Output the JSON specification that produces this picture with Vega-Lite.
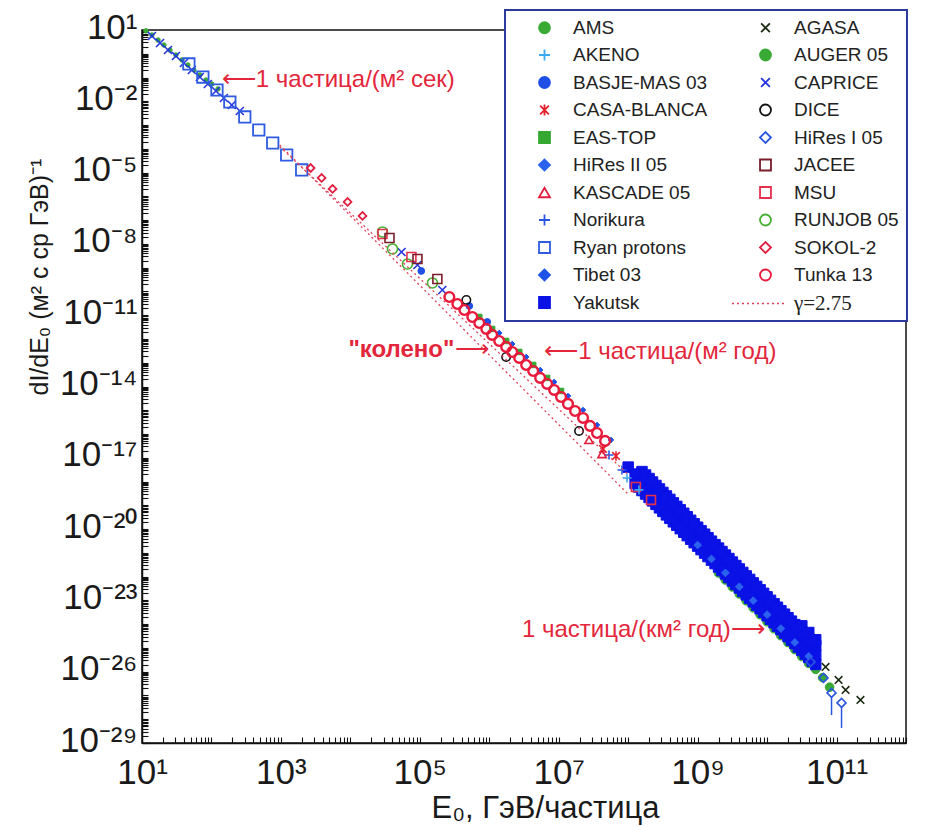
{
  "$schema": "https://vega.github.io/schema/vega-lite/v6.json",
  "autosize": {"type": "none"},
  "padding": {"left": 142, "top": 30, "right": 35, "bottom": 84},
  "width": 764,
  "height": 713,
  "background": "white",
  "config": {
    "font": "Liberation Sans",
    "view": {"stroke": "#111", "strokeWidth": 1.5},
    "axis": {"grid": false, "domainColor": "#111", "domainWidth": 1.5, "tickColor": "#111", "tickWidth": 1.1, "labelColor": "#1a1a1a", "titleColor": "#1a1a1a", "titleFontWeight": "normal", "labelFont": "Liberation Sans", "titleFont": "Liberation Sans"},
    "legend": {
      "symbolSize": 120, "symbolStrokeWidth": 1.8,
      "labelFont": "Liberation Sans", "labelFontSize": 19, "labelColor": "#222",
      "rowPadding": 7.5, "columnPadding": 26, "padding": 8,
      "symbolOffset": 22, "labelOffset": 19,
      "strokeColor": "#2b3a9c", "strokeWidth": 2, "fillColor": "#ffffff", "labelLimit": 400
    }
  },
  "datasets": {
    "gamma": [
      {"line": "A", "E": 962, "F": 1.245e-4},
      {"line": "A", "E": 1.026e8, "F": 1.85e-18},
      {"line": "B", "E": 962, "F": 1.45e-4},
      {"line": "B", "E": 1.026e8, "F": 2.74e-19}
    ],
    "errs": [
      {"series": "HiRes I 05", "E": 8.47e10, "F": 9.0e-28, "F2": 1.5e-28},
      {"series": "HiRes I 05", "E": 1.18e11, "F": 3.5e-28, "F2": 4.3e-29}
    ],
    "points": [
      {"series": "AUGER 05", "E": 2.00e9, "F": 1.42e-22},
      {"series": "AUGER 05", "E": 2.51e9, "F": 7.23e-23},
      {"series": "AUGER 05", "E": 3.16e9, "F": 3.68e-23},
      {"series": "AUGER 05", "E": 3.98e9, "F": 1.87e-23},
      {"series": "AUGER 05", "E": 5.01e9, "F": 9.61e-24},
      {"series": "AUGER 05", "E": 6.31e9, "F": 4.88e-24},
      {"series": "AUGER 05", "E": 7.94e9, "F": 2.49e-24},
      {"series": "AUGER 05", "E": 1.00e10, "F": 1.26e-24},
      {"series": "AUGER 05", "E": 1.26e10, "F": 6.44e-25},
      {"series": "AUGER 05", "E": 1.58e10, "F": 3.29e-25},
      {"series": "AUGER 05", "E": 2.00e10, "F": 1.68e-25},
      {"series": "AUGER 05", "E": 2.51e10, "F": 8.50e-26},
      {"series": "AUGER 05", "E": 3.16e10, "F": 4.34e-26},
      {"series": "AUGER 05", "E": 3.98e10, "F": 2.22e-26},
      {"series": "AUGER 05", "E": 5.01e10, "F": 1.26e-26},
      {"series": "AUGER 05", "E": 6.31e10, "F": 5.62e-27},
      {"series": "AUGER 05", "E": 7.94e10, "F": 2.24e-27},

      {"series": "Yakutsk", "E": 1.00e8, "F": 4.06e-18},
      {"series": "Yakutsk", "E": 1.26e8, "F": 2.07e-18},
      {"series": "Yakutsk", "E": 1.58e8, "F": 1.05e-18},
      {"series": "Yakutsk", "E": 2.00e8, "F": 5.37e-19},
      {"series": "Yakutsk", "E": 2.51e8, "F": 2.74e-19},
      {"series": "Yakutsk", "E": 3.16e8, "F": 1.39e-19},
      {"series": "Yakutsk", "E": 3.98e8, "F": 7.10e-20},
      {"series": "Yakutsk", "E": 5.01e8, "F": 3.62e-20},
      {"series": "Yakutsk", "E": 6.31e8, "F": 1.85e-20},
      {"series": "Yakutsk", "E": 7.94e8, "F": 9.40e-21},
      {"series": "Yakutsk", "E": 1.00e9, "F": 4.79e-21},
      {"series": "Yakutsk", "E": 1.26e9, "F": 2.44e-21},
      {"series": "Yakutsk", "E": 1.58e9, "F": 1.24e-21},
      {"series": "Yakutsk", "E": 2.00e9, "F": 6.34e-22},
      {"series": "Yakutsk", "E": 2.51e9, "F": 3.23e-22},
      {"series": "Yakutsk", "E": 3.16e9, "F": 1.64e-22},
      {"series": "Yakutsk", "E": 3.98e9, "F": 8.38e-23},
      {"series": "Yakutsk", "E": 5.01e9, "F": 4.28e-23},
      {"series": "Yakutsk", "E": 6.31e9, "F": 2.18e-23},
      {"series": "Yakutsk", "E": 7.94e9, "F": 1.11e-23},
      {"series": "Yakutsk", "E": 1.00e10, "F": 5.65e-24},
      {"series": "Yakutsk", "E": 1.26e10, "F": 2.88e-24},
      {"series": "Yakutsk", "E": 1.58e10, "F": 1.47e-24},
      {"series": "Yakutsk", "E": 2.00e10, "F": 7.48e-25},
      {"series": "Yakutsk", "E": 2.51e10, "F": 3.81e-25},
      {"series": "Yakutsk", "E": 3.16e10, "F": 1.94e-25},
      {"series": "Yakutsk", "E": 3.98e10, "F": 9.89e-26},
      {"series": "Yakutsk", "E": 5.01e10, "F": 5.05e-26},
      {"series": "Yakutsk", "E": 1.58e8, "F": 2.63e-18},
      {"series": "Yakutsk", "E": 2.00e8, "F": 1.34e-18},
      {"series": "Yakutsk", "E": 2.51e8, "F": 6.85e-19},
      {"series": "Yakutsk", "E": 3.16e8, "F": 3.48e-19},
      {"series": "Yakutsk", "E": 3.98e8, "F": 1.78e-19},
      {"series": "Yakutsk", "E": 5.01e8, "F": 9.05e-20},
      {"series": "Yakutsk", "E": 6.31e8, "F": 4.63e-20},
      {"series": "Yakutsk", "E": 7.94e8, "F": 2.35e-20},
      {"series": "Yakutsk", "E": 1.00e9, "F": 1.20e-20},
      {"series": "Yakutsk", "E": 1.26e9, "F": 6.10e-21},
      {"series": "Yakutsk", "E": 1.58e9, "F": 3.10e-21},
      {"series": "Yakutsk", "E": 2.00e9, "F": 1.59e-21},
      {"series": "Yakutsk", "E": 2.51e9, "F": 8.08e-22},
      {"series": "Yakutsk", "E": 3.16e9, "F": 4.10e-22},
      {"series": "Yakutsk", "E": 3.98e9, "F": 2.10e-22},
      {"series": "Yakutsk", "E": 5.01e9, "F": 1.07e-22},
      {"series": "Yakutsk", "E": 6.31e9, "F": 5.45e-23},
      {"series": "Yakutsk", "E": 7.94e9, "F": 2.78e-23},
      {"series": "Yakutsk", "E": 1.00e10, "F": 1.41e-23},
      {"series": "Yakutsk", "E": 1.26e10, "F": 7.20e-24},
      {"series": "Yakutsk", "E": 1.58e10, "F": 3.68e-24},
      {"series": "Yakutsk", "E": 2.00e10, "F": 1.87e-24},
      {"series": "Yakutsk", "E": 2.51e10, "F": 9.53e-25},
      {"series": "Yakutsk", "E": 3.16e10, "F": 4.85e-25},
      {"series": "Yakutsk", "E": 3.98e10, "F": 2.47e-25},
      {"series": "Yakutsk", "E": 5.01e10, "F": 1.26e-25},
      {"series": "Yakutsk", "E": 1.78e8, "F": 1.88e-18},
      {"series": "Yakutsk", "E": 2.24e8, "F": 9.57e-19},
      {"series": "Yakutsk", "E": 2.82e8, "F": 4.89e-19},
      {"series": "Yakutsk", "E": 3.55e8, "F": 2.48e-19},
      {"series": "Yakutsk", "E": 4.47e8, "F": 1.27e-19},
      {"series": "Yakutsk", "E": 5.62e8, "F": 6.46e-20},
      {"series": "Yakutsk", "E": 7.08e8, "F": 3.31e-20},
      {"series": "Yakutsk", "E": 8.91e8, "F": 1.68e-20},
      {"series": "Yakutsk", "E": 1.12e9, "F": 8.57e-21},
      {"series": "Yakutsk", "E": 1.41e9, "F": 4.36e-21},
      {"series": "Yakutsk", "E": 1.78e9, "F": 2.21e-21},
      {"series": "Yakutsk", "E": 2.24e9, "F": 1.14e-21},
      {"series": "Yakutsk", "E": 2.82e9, "F": 5.77e-22},
      {"series": "Yakutsk", "E": 3.55e9, "F": 2.93e-22},
      {"series": "Yakutsk", "E": 4.47e9, "F": 1.50e-22},
      {"series": "Yakutsk", "E": 5.62e9, "F": 7.64e-23},
      {"series": "Yakutsk", "E": 7.08e9, "F": 3.89e-23},
      {"series": "Yakutsk", "E": 8.91e9, "F": 1.98e-23},
      {"series": "Yakutsk", "E": 1.12e10, "F": 1.01e-23},
      {"series": "Yakutsk", "E": 1.41e10, "F": 5.14e-24},
      {"series": "Yakutsk", "E": 1.78e10, "F": 2.63e-24},
      {"series": "Yakutsk", "E": 2.24e10, "F": 1.34e-24},
      {"series": "Yakutsk", "E": 2.82e10, "F": 6.80e-25},
      {"series": "Yakutsk", "E": 3.55e10, "F": 3.46e-25},
      {"series": "Yakutsk", "E": 4.47e10, "F": 1.76e-25},
      {"series": "Yakutsk", "E": 1.26e8, "F": 8.28e-19},
      {"series": "Yakutsk", "E": 1.58e8, "F": 4.20e-19},
      {"series": "Yakutsk", "E": 2.00e8, "F": 2.15e-19},
      {"series": "Yakutsk", "E": 2.51e8, "F": 1.10e-19},
      {"series": "Yakutsk", "E": 3.16e8, "F": 5.56e-20},
      {"series": "Yakutsk", "E": 3.98e8, "F": 2.84e-20},
      {"series": "Yakutsk", "E": 5.01e8, "F": 1.45e-20},
      {"series": "Yakutsk", "E": 6.31e8, "F": 7.40e-21},
      {"series": "Yakutsk", "E": 7.94e8, "F": 3.76e-21},
      {"series": "Yakutsk", "E": 1.00e9, "F": 1.92e-21},
      {"series": "Yakutsk", "E": 1.26e9, "F": 9.76e-22},
      {"series": "Yakutsk", "E": 1.58e9, "F": 4.96e-22},
      {"series": "Yakutsk", "E": 2.00e9, "F": 2.54e-22},
      {"series": "Yakutsk", "E": 2.51e9, "F": 1.29e-22},
      {"series": "Yakutsk", "E": 3.16e9, "F": 6.56e-23},
      {"series": "Yakutsk", "E": 3.98e9, "F": 3.35e-23},
      {"series": "Yakutsk", "E": 5.01e9, "F": 1.71e-23},
      {"series": "Yakutsk", "E": 6.31e9, "F": 8.72e-24},
      {"series": "Yakutsk", "E": 7.94e9, "F": 4.44e-24},
      {"series": "Yakutsk", "E": 1.00e10, "F": 2.26e-24},
      {"series": "Yakutsk", "E": 1.26e10, "F": 1.15e-24},
      {"series": "Yakutsk", "E": 1.58e10, "F": 5.88e-25},
      {"series": "Yakutsk", "E": 2.00e10, "F": 2.99e-25},
      {"series": "Yakutsk", "E": 2.51e10, "F": 1.52e-25},
      {"series": "Yakutsk", "E": 3.16e10, "F": 7.76e-26},
      {"series": "Yakutsk", "E": 3.98e10, "F": 3.96e-26},
      {"series": "Yakutsk", "E": 5.01e10, "F": 2.02e-26},
      {"series": "Yakutsk", "E": 1.41e8, "F": 5.91e-19},
      {"series": "Yakutsk", "E": 1.78e8, "F": 3.00e-19},
      {"series": "Yakutsk", "E": 2.24e8, "F": 1.54e-19},
      {"series": "Yakutsk", "E": 2.82e8, "F": 7.85e-20},
      {"series": "Yakutsk", "E": 3.55e8, "F": 3.97e-20},
      {"series": "Yakutsk", "E": 4.47e8, "F": 2.03e-20},
      {"series": "Yakutsk", "E": 5.62e8, "F": 1.04e-20},
      {"series": "Yakutsk", "E": 7.08e8, "F": 5.28e-21},
      {"series": "Yakutsk", "E": 8.91e8, "F": 2.68e-21},
      {"series": "Yakutsk", "E": 1.12e9, "F": 1.37e-21},
      {"series": "Yakutsk", "E": 1.41e9, "F": 6.97e-22},
      {"series": "Yakutsk", "E": 1.78e9, "F": 3.54e-22},
      {"series": "Yakutsk", "E": 2.24e9, "F": 1.81e-22},
      {"series": "Yakutsk", "E": 2.82e9, "F": 9.21e-23},
      {"series": "Yakutsk", "E": 3.55e9, "F": 4.68e-23},
      {"series": "Yakutsk", "E": 4.47e9, "F": 2.39e-23},
      {"series": "Yakutsk", "E": 5.62e9, "F": 1.22e-23},
      {"series": "Yakutsk", "E": 7.08e9, "F": 6.23e-24},
      {"series": "Yakutsk", "E": 8.91e9, "F": 3.17e-24},
      {"series": "Yakutsk", "E": 1.12e10, "F": 1.61e-24},
      {"series": "Yakutsk", "E": 1.41e10, "F": 8.21e-25},
      {"series": "Yakutsk", "E": 1.78e10, "F": 4.20e-25},
      {"series": "Yakutsk", "E": 2.24e10, "F": 2.13e-25},
      {"series": "Yakutsk", "E": 2.82e10, "F": 1.09e-25},
      {"series": "Yakutsk", "E": 3.55e10, "F": 5.54e-26},
      {"series": "Yakutsk", "E": 4.47e10, "F": 2.83e-26},
      {"series": "Yakutsk", "E": 3.16e10, "F": 8.5e-25},
      {"series": "Yakutsk", "E": 3.98e10, "F": 4.45e-25},
      {"series": "Yakutsk", "E": 5.01e10, "F": 2.2e-25},

      {"series": "HiRes II 05", "E": 1.00e9, "F": 2.14e-21},
      {"series": "HiRes II 05", "E": 1.58e9, "F": 5.56e-22},
      {"series": "HiRes II 05", "E": 2.51e9, "F": 1.44e-22},
      {"series": "HiRes II 05", "E": 3.98e9, "F": 3.74e-23},
      {"series": "HiRes II 05", "E": 6.31e9, "F": 9.73e-24},
      {"series": "HiRes II 05", "E": 1.00e10, "F": 2.52e-24},
      {"series": "HiRes II 05", "E": 1.58e10, "F": 6.56e-25},
      {"series": "HiRes II 05", "E": 2.51e10, "F": 1.70e-25},
      {"series": "HiRes II 05", "E": 3.98e10, "F": 4.42e-26},

      {"series": "AMS", "E": 11.4, "F": 9.2},
      {"series": "AMS", "E": 13.9, "F": 6.17},
      {"series": "AMS", "E": 17.0, "F": 3.79},
      {"series": "AMS", "E": 20.7, "F": 2.34},
      {"series": "AMS", "E": 25.2, "F": 1.44},
      {"series": "AMS", "E": 30.8, "F": 0.888},
      {"series": "AMS", "E": 37.6, "F": 0.547},
      {"series": "AMS", "E": 45.8, "F": 0.337},
      {"series": "AMS", "E": 55.8, "F": 0.207},
      {"series": "AMS", "E": 68.1, "F": 0.128},
      {"series": "AMS", "E": 83.2, "F": 0.0787},
      {"series": "AMS", "E": 101, "F": 0.0535},
      {"series": "AMS", "E": 124, "F": 0.0330},

      {"series": "CAPRICE", "E": 13.9, "F": 5.59},
      {"series": "CAPRICE", "E": 18.2, "F": 2.84},
      {"series": "CAPRICE", "E": 23.7, "F": 1.44},
      {"series": "CAPRICE", "E": 30.8, "F": 0.805},
      {"series": "CAPRICE", "E": 40.1, "F": 0.409},
      {"series": "CAPRICE", "E": 52.2, "F": 0.207},
      {"series": "CAPRICE", "E": 68.1, "F": 0.105},
      {"series": "CAPRICE", "E": 88.7, "F": 0.0535},
      {"series": "CAPRICE", "E": 116, "F": 0.0272},
      {"series": "CAPRICE", "E": 151, "F": 0.0138},
      {"series": "CAPRICE", "E": 196, "F": 0.0070},
      {"series": "CAPRICE", "E": 256, "F": 0.00391},
      {"series": "CAPRICE", "E": 5.45e4, "F": 4.57e-9},
      {"series": "CAPRICE", "E": 9.25e4, "F": 1.30e-9},
      {"series": "CAPRICE", "E": 2.11e5, "F": 1.15e-10},

      {"series": "Ryan protons", "E": 47.3, "F": 0.372},
      {"series": "Ryan protons", "E": 75.2, "F": 0.105},
      {"series": "Ryan protons", "E": 120, "F": 0.0299},
      {"series": "Ryan protons", "E": 184, "F": 0.00935},
      {"series": "Ryan protons", "E": 302, "F": 0.00219},
      {"series": "Ryan protons", "E": 480, "F": 6.21e-4},
      {"series": "Ryan protons", "E": 762, "F": 1.76e-4},
      {"series": "Ryan protons", "E": 1211, "F": 5.51e-5},
      {"series": "Ryan protons", "E": 1991, "F": 1.29e-5},

      {"series": "SOKOL-2", "E": 2680, "F": 1.56e-5},
      {"series": "SOKOL-2", "E": 3855, "F": 5.94e-6},
      {"series": "SOKOL-2", "E": 5546, "F": 2.05e-6},
      {"series": "SOKOL-2", "E": 9120, "F": 5.81e-7},
      {"series": "SOKOL-2", "E": 14960, "F": 1.50e-7},

      {"series": "RUNJOB 05", "E": 2.90e4, "F": 3.18e-8},
      {"series": "RUNJOB 05", "E": 4.04e4, "F": 6.12e-9},
      {"series": "RUNJOB 05", "E": 6.64e4, "F": 1.43e-9},
      {"series": "RUNJOB 05", "E": 1.52e5, "F": 2.27e-10},

      {"series": "MSU", "E": 2.90e4, "F": 2.62e-8},
      {"series": "MSU", "E": 7.57e4, "F": 2.82e-9},
      {"series": "MSU", "E": 1.29e8, "F": 5.94e-19},
      {"series": "MSU", "E": 2.13e8, "F": 1.69e-19},

      {"series": "JACEE", "E": 3.66e4, "F": 1.77e-8},
      {"series": "JACEE", "E": 9.25e4, "F": 2.32e-9},
      {"series": "JACEE", "E": 1.79e5, "F": 3.35e-10},

      {"series": "EAS-TOP", "E": 7.18e5, "F": 8.43e-12},
      {"series": "EAS-TOP", "E": 1.10e6, "F": 2.64e-12},
      {"series": "EAS-TOP", "E": 1.75e6, "F": 8.24e-13},
      {"series": "EAS-TOP", "E": 2.70e6, "F": 2.84e-13},
      {"series": "EAS-TOP", "E": 4.29e6, "F": 8.05e-14},
      {"series": "EAS-TOP", "E": 6.81e6, "F": 2.29e-14},
      {"series": "EAS-TOP", "E": 1.08e7, "F": 6.50e-15},

      {"series": "Tibet 03", "E": 1.39e6, "F": 1.79e-12},
      {"series": "Tibet 03", "E": 2.14e6, "F": 6.17e-13},
      {"series": "Tibet 03", "E": 3.40e6, "F": 1.75e-13},
      {"series": "Tibet 03", "E": 5.41e6, "F": 4.97e-14},
      {"series": "Tibet 03", "E": 8.59e6, "F": 1.55e-14},
      {"series": "Tibet 03", "E": 1.36e7, "F": 4.00e-15},
      {"series": "Tibet 03", "E": 2.24e7, "F": 1.03e-15},
      {"series": "Tibet 03", "E": 3.56e7, "F": 2.41e-16},
      {"series": "Tibet 03", "E": 5.66e7, "F": 5.64e-17},

      {"series": "BASJE-MAS 03", "E": 1.05e5, "F": 7.26e-10},
      {"series": "BASJE-MAS 03", "E": 5.16e5, "F": 2.45e-11},
      {"series": "BASJE-MAS 03", "E": 9.35e5, "F": 5.20e-12},

      {"series": "DICE", "E": 4.68e5, "F": 4.38e-11},
      {"series": "DICE", "E": 1.75e6, "F": 1.75e-13},
      {"series": "DICE", "E": 1.96e7, "F": 1.35e-16},

      {"series": "Norikura", "E": 5.30e7, "F": 1.32e-17},
      {"series": "Norikura", "E": 8.14e7, "F": 3.08e-18},
      {"series": "AKENO", "E": 9.62e7, "F": 1.42e-18},
      {"series": "AKENO", "E": 1.43e8, "F": 4.45e-19},
      {"series": "CASA-BLANCA", "E": 4.34e7, "F": 2.36e-17},
      {"series": "CASA-BLANCA", "E": 6.68e7, "F": 1.20e-17},
      {"series": "KASCADE 05", "E": 2.73e7, "F": 5.64e-17},
      {"series": "KASCADE 05", "E": 4.21e7, "F": 1.45e-17},

      {"series": "Tunka 13", "E": 2.66e5, "F": 5.85e-11},
      {"series": "Tunka 13", "E": 3.47e5, "F": 2.97e-11},
      {"series": "Tunka 13", "E": 4.38e5, "F": 1.66e-11},
      {"series": "Tunka 13", "E": 5.70e5, "F": 8.43e-12},
      {"series": "Tunka 13", "E": 7.18e5, "F": 4.71e-12},
      {"series": "Tunka 13", "E": 9.06e5, "F": 2.64e-12},
      {"series": "Tunka 13", "E": 1.10e6, "F": 1.48e-12},
      {"series": "Tunka 13", "E": 1.39e6, "F": 8.24e-13},
      {"series": "Tunka 13", "E": 1.75e6, "F": 4.61e-13},
      {"series": "Tunka 13", "E": 2.14e6, "F": 2.84e-13},
      {"series": "Tunka 13", "E": 2.70e6, "F": 1.59e-13},
      {"series": "Tunka 13", "E": 3.40e6, "F": 8.05e-14},
      {"series": "Tunka 13", "E": 4.29e6, "F": 4.51e-14},
      {"series": "Tunka 13", "E": 5.41e6, "F": 2.29e-14},
      {"series": "Tunka 13", "E": 6.81e6, "F": 1.28e-14},
      {"series": "Tunka 13", "E": 8.59e6, "F": 7.16e-15},
      {"series": "Tunka 13", "E": 1.08e7, "F": 3.63e-15},
      {"series": "Tunka 13", "E": 1.36e7, "F": 1.85e-15},
      {"series": "Tunka 13", "E": 1.72e7, "F": 9.35e-16},
      {"series": "Tunka 13", "E": 2.24e7, "F": 4.75e-16},
      {"series": "Tunka 13", "E": 2.83e7, "F": 2.19e-16},
      {"series": "Tunka 13", "E": 3.56e7, "F": 1.11e-16},
      {"series": "Tunka 13", "E": 4.65e7, "F": 5.12e-17},

      {"series": "HiRes I 05", "E": 4.23e10, "F": 2.58e-26},
      {"series": "HiRes I 05", "E": 6.50e10, "F": 5.48e-27},
      {"series": "HiRes I 05", "E": 8.47e10, "F": 1.28e-27},
      {"series": "HiRes I 05", "E": 1.18e11, "F": 4.86e-28},

      {"series": "AGASA", "E": 6.95e10, "F": 1.59e-26},
      {"series": "AGASA", "E": 1.07e11, "F": 4.52e-27},
      {"series": "AGASA", "E": 1.35e11, "F": 1.71e-27},
      {"series": "AGASA", "E": 2.21e11, "F": 6.50e-28}
    ],
    "notesLeft": [
      {"text": "⟵1 частица/(м² сек)", "E": 141, "F": 0.0787},
      {"text": "⟵1 частица/(м² год)", "E": 6.17e6, "F": 2.84e-13}
    ],
    "notesRight": [
      {"text": "1 частица/(км² год)⟶", "E": 9.25e9, "F": 5.73e-25},
      {"text": "⟶", "E": 1.0e6, "F": 3.45e-13}
    ],
    "notesBold": [
      {"text": "\"колено\"", "E": 3.14e5, "F": 3.45e-13}
    ]
  },
  "encoding": {
    "x": {
      "field": "E", "type": "quantitative",
      "scale": {"type": "log", "domain": [10, 1e12], "nice": false},
      "axis": {
        "title": "E₀, ГэВ/частица",
        "tickCount": 60,
        "labelExpr": "abs(datum.value/pow(10,round(log(datum.value)/LN10))-1)<1e-6 && abs(round(log(datum.value)/LN10))%2==1 ? '10'+(round(log(datum.value)/LN10)<0?'⁻':'')+(abs(round(log(datum.value)/LN10))>=10?['⁰','¹','²','³','⁴','⁵','⁶','⁷','⁸','⁹'][floor(abs(round(log(datum.value)/LN10))/10)]:'')+['⁰','¹','²','³','⁴','⁵','⁶','⁷','⁸','⁹'][abs(round(log(datum.value)/LN10))%10] : ''",
        "labelOverlap": false, "labelFlush": false, "labelBound": false,
        "tickSize": -6, "labelPadding": 46, "labelBaseline": "alphabetic", "labelAlign": "center",
        "labelFontSize": 35,
        "titleFontSize": 31, "titleX": 403, "titleY": 74, "titleAlign": "center", "titleBaseline": "alphabetic"
      }
    },
    "y": {
      "field": "F", "type": "quantitative",
      "scale": {"type": "log", "domain": [1e-29, 10], "nice": false},
      "axis": {
        "title": "dI/dE₀  (м² с ср ГэВ)⁻¹",
        "tickCount": 60,
        "labelExpr": "abs(datum.value/pow(10,round(log(datum.value)/LN10))-1)<1e-6 && (round(log(datum.value)/LN10)-1)%3==0 ? '10'+(round(log(datum.value)/LN10)<0?'⁻':'')+(abs(round(log(datum.value)/LN10))>=10?['⁰','¹','²','³','⁴','⁵','⁶','⁷','⁸','⁹'][floor(abs(round(log(datum.value)/LN10))/10)]:'')+['⁰','¹','²','³','⁴','⁵','⁶','⁷','⁸','⁹'][abs(round(log(datum.value)/LN10))%10] : ''",
        "labelOverlap": false, "labelFlush": false, "labelBound": false,
        "tickSize": -6, "labelPadding": 11, "labelBaseline": "middle", "labelAlign": "right", "labelOffset": -3,
        "labelFontSize": 35,
        "titleFontSize": 25, "titleAngle": 270, "titleX": -95, "titleY": 365, "titleAlign": "left", "titleBaseline": "alphabetic"
      }
    }
  },
  "layer": [
    {
      "data": {"name": "points"},
      "mark": {"type": "point", "opacity": 1},
      "encoding": {
        "fill": {
          "field": "series", "type": "nominal",
          "scale": {
            "domain": ["AMS", "AKENO", "BASJE-MAS 03", "CASA-BLANCA", "EAS-TOP", "HiRes II 05", "KASCADE 05", "Norikura", "Ryan protons", "Tibet 03", "Yakutsk", "AGASA", "AUGER 05", "CAPRICE", "DICE", "HiRes I 05", "JACEE", "MSU", "RUNJOB 05", "SOKOL-2", "Tunka 13"],
            "range": ["#3aaa35", "transparent", "#1f4fe6", "transparent", "#35a832", "#2b62ee", "transparent", "transparent", "transparent", "#1f52e6", "#0a12e6", "transparent", "#3aaa35", "transparent", "transparent", "transparent", "transparent", "transparent", "transparent", "transparent", "transparent"]
          },
          "legend": {
            "title": null, "orient": "none", "legendX": 363, "legendY": -20, "columns": 2, "direction": "vertical",
            "labelExpr": "datum.value == 'RUNJOB 05' ? 'RUNJOB 05\u2003\u2003\u2003\u2003' : datum.label"
          }
        },
        "stroke": {
          "field": "series", "type": "nominal",
          "scale": {
            "domain": ["AMS", "AKENO", "BASJE-MAS 03", "CASA-BLANCA", "EAS-TOP", "HiRes II 05", "KASCADE 05", "Norikura", "Ryan protons", "Tibet 03", "Yakutsk", "AGASA", "AUGER 05", "CAPRICE", "DICE", "HiRes I 05", "JACEE", "MSU", "RUNJOB 05", "SOKOL-2", "Tunka 13"],
            "range": ["#3aaa35", "#3aa8f0", "#1f4fe6", "#e4202c", "#35a832", "#2b62ee", "#e21d3c", "#2a55e3", "#2e5be0", "#1f52e6", "#0a12e6", "#1b2a12", "#3aaa35", "#2434e0", "#111111", "#2b56e0", "#7a1c2a", "#e3304c", "#45b02f", "#e11e3f", "#e8193a"]
          },
          "legend": {
            "title": null, "orient": "none", "legendX": 363, "legendY": -20, "columns": 2, "direction": "vertical",
            "labelExpr": "datum.value == 'RUNJOB 05' ? 'RUNJOB 05\u2003\u2003\u2003\u2003' : datum.label"
          }
        },
        "shape": {
          "field": "series", "type": "nominal",
          "scale": {
            "domain": ["AMS", "AKENO", "BASJE-MAS 03", "CASA-BLANCA", "EAS-TOP", "HiRes II 05", "KASCADE 05", "Norikura", "Ryan protons", "Tibet 03", "Yakutsk", "AGASA", "AUGER 05", "CAPRICE", "DICE", "HiRes I 05", "JACEE", "MSU", "RUNJOB 05", "SOKOL-2", "Tunka 13"],
            "range": ["circle", "M-1,0L1,0M0,-1L0,1", "circle", "M-0.8,-0.8L0.8,0.8M-0.8,0.8L0.8,-0.8M0,-1L0,1", "square", "diamond", "triangle-up", "M-1,0L1,0M0,-1L0,1", "square", "diamond", "square", "M-0.8,-0.8L0.8,0.8M-0.8,0.8L0.8,-0.8", "circle", "M-0.8,-0.8L0.8,0.8M-0.8,0.8L0.8,-0.8", "circle", "diamond", "square", "square", "circle", "diamond", "circle"]
          },
          "legend": {
            "title": null, "orient": "none", "legendX": 363, "legendY": -20, "columns": 2, "direction": "vertical",
            "labelExpr": "datum.value == 'RUNJOB 05' ? 'RUNJOB 05\u2003\u2003\u2003\u2003' : datum.label"
          }
        },
        "size": {
          "field": "series", "type": "nominal",
          "scale": {
            "type": "ordinal",
            "domain": ["Tunka 13", "SOKOL-2", "RUNJOB 05", "MSU", "JACEE", "HiRes I 05", "DICE", "CAPRICE", "AUGER 05", "AGASA", "Yakutsk", "Tibet 03", "Ryan protons", "Norikura", "KASCADE 05", "HiRes II 05", "EAS-TOP", "CASA-BLANCA", "BASJE-MAS 03", "AKENO", "AMS"],
            "range": [95, 60, 100, 80, 80, 80, 70, 100, 75, 90, 110, 30, 130, 80, 70, 60, 30, 90, 45, 80, 20]
          },
          "legend": null
        },
        "strokeWidth": {
          "field": "series", "type": "nominal",
          "scale": {
            "type": "ordinal",
            "domain": ["Tunka 13", "SOKOL-2", "RUNJOB 05", "MSU", "JACEE", "HiRes I 05", "DICE", "CAPRICE", "AUGER 05", "AGASA", "Yakutsk", "Tibet 03", "Ryan protons", "Norikura", "KASCADE 05", "HiRes II 05", "EAS-TOP", "CASA-BLANCA", "BASJE-MAS 03", "AKENO", "AMS"],
            "range": [2.4, 1.8, 1.6, 1.6, 1.6, 1.6, 1.6, 1.6, 1, 1.6, 1, 1, 1.8, 1.6, 1.6, 1, 1, 1.6, 1, 1.6, 1]
          },
          "legend": null
        }
      }
    },
    {
      "data": {"name": "gamma"},
      "mark": {"type": "line", "color": "#e0405a", "strokeWidth": 1.3},
      "encoding": {
        "detail": {"field": "line", "type": "nominal"},
        "strokeDash": {
          "datum": "γ=2.75", "type": "nominal",
          "scale": {"domain": ["γ=2.75"], "range": [[2, 3]]},
          "legend": {
            "title": null, "orient": "none", "legendX": 589, "legendY": 246,
            "symbolType": "stroke", "symbolSize": 2809, "symbolStrokeColor": "#e0405a", "symbolStrokeWidth": 1.3,
            "labelFont": "Liberation Serif", "labelFontSize": 21, "labelColor": "#222",
            "strokeColor": "transparent", "fillColor": "transparent", "padding": 0,
            "symbolOffset": 0, "labelOffset": 8
          }
        }
      }
    },
    {
      "data": {"name": "errs"},
      "mark": {"type": "rule", "color": "#2b56e0", "strokeWidth": 1.5},
      "encoding": {"y2": {"field": "F2"}}
    },
    {
      "data": {"name": "notesLeft"},
      "mark": {"type": "text", "align": "left", "baseline": "middle", "fontSize": 24, "color": "#e3263b", "font": "Liberation Sans"},
      "encoding": {"text": {"field": "text"}}
    },
    {
      "data": {"name": "notesRight"},
      "mark": {"type": "text", "align": "right", "baseline": "middle", "fontSize": 24, "color": "#e3263b", "font": "Liberation Sans"},
      "encoding": {"text": {"field": "text"}}
    },
    {
      "data": {"name": "notesBold"},
      "mark": {"type": "text", "align": "right", "baseline": "middle", "fontSize": 24, "fontWeight": "bold", "color": "#e3263b", "font": "Liberation Sans"},
      "encoding": {"text": {"field": "text"}}
    }
  ]
}
